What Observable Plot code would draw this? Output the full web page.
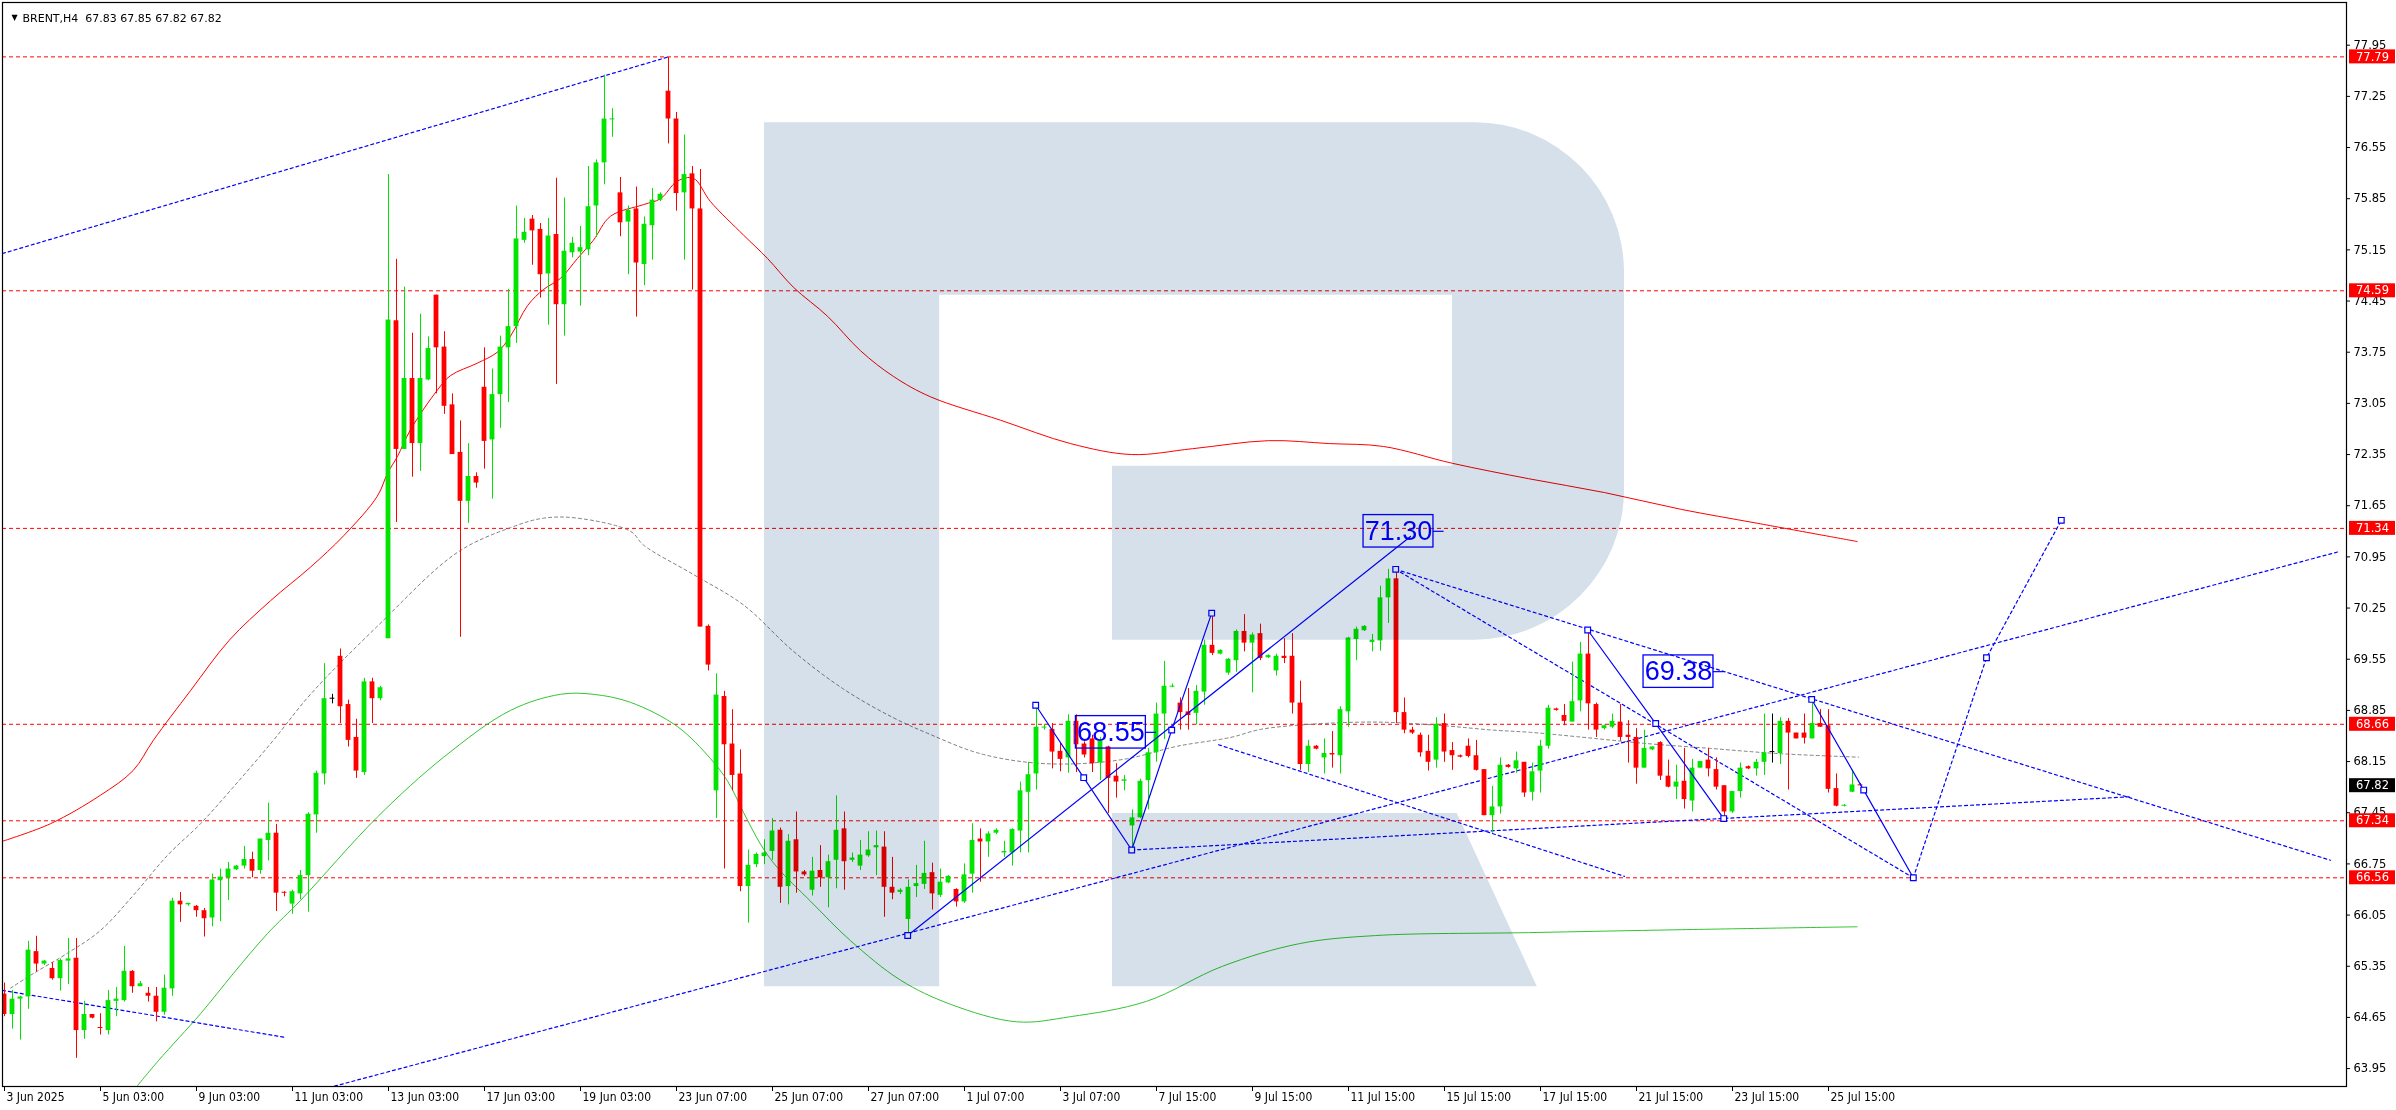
<!DOCTYPE html>
<html><head><meta charset="utf-8">
<script src="https://cdn.jsdelivr.net/npm/d3@7"></script>
<script src="https://cdn.jsdelivr.net/npm/@observablehq/plot@0.6"></script>
<style>
html,body{margin:0;padding:0;background:#fff;}
#chart{width:2396px;height:1110px;}
</style></head><body><div id="chart"></div>
<script>
// ---------- DATA (BRENT, H4) ----------
const opens = [
64.97,64.69,64.90,64.93,65.55,65.38,65.32,65.18,65.42,65.46,
64.47,64.69,64.51,64.47,64.87,64.88,65.28,65.07,64.98,64.94,
64.72,65.04,66.24,66.19,66.17,66.11,66.01,66.52,66.56,66.67,
66.72,66.81,66.66,67.07,67.17,66.36,66.20,66.34,66.59,67.42,
67.98,69.01,69.59,68.93,68.48,68.00,69.24,69.01,69.83,74.18,
72.42,73.39,72.50,73.37,74.53,73.82,73.03,72.38,71.71,72.05,
73.27,72.55,73.17,73.81,74.10,75.28,75.57,75.43,74.82,75.36,
74.40,75.11,75.12,75.15,75.75,76.34,76.93,75.93,75.53,75.71,
74.95,75.48,75.83,77.32,76.94,75.93,76.19,75.71,70.00,67.75,
69.04,68.39,67.98,66.44,66.74,66.85,66.92,67.21,66.44,67.08,
66.64,66.39,66.66,66.56,66.80,67.23,66.80,66.72,66.86,66.97,
66.98,66.43,66.36,65.99,66.44,66.47,66.63,66.32,66.49,66.40,
66.23,66.61,67.09,67.05,67.17,66.90,66.90,67.20,67.73,67.98,
68.61,68.59,68.29,68.20,68.70,68.39,68.46,68.13,68.35,67.95,
67.88,67.27,67.38,67.89,68.27,68.80,69.17,68.95,68.83,68.81,
69.10,69.74,69.62,69.36,69.53,69.93,69.77,69.90,69.57,69.39,
69.59,69.59,68.95,68.11,68.36,68.20,68.26,68.23,68.83,69.82,
69.94,69.78,69.80,70.39,70.65,68.82,68.58,68.51,68.29,68.17,
68.67,68.30,68.23,68.36,68.23,68.04,67.41,67.53,68.10,68.05,
68.14,67.73,68.02,68.36,68.87,68.78,68.69,68.98,69.62,68.93,
68.60,68.62,68.69,68.51,68.48,68.06,68.31,68.41,67.95,67.80,
67.88,67.61,68.06,68.17,68.04,67.82,67.46,67.74,68.08,68.05,
68.14,68.28,68.26,68.70,68.54,68.54,68.46,68.67,68.64,67.78,
67.54,67.73,67.83];
const highs = [
65.12,65.02,64.94,65.69,65.76,65.43,65.40,65.45,65.73,65.73,
64.87,64.69,64.70,65.02,65.06,65.62,65.29,65.14,65.06,65.06,
65.23,66.28,66.36,66.21,66.18,66.14,66.61,66.68,66.77,66.73,
66.99,66.91,67.09,67.58,67.29,66.37,66.39,66.66,67.45,68.02,
69.49,69.07,69.69,68.99,68.73,69.29,69.29,69.18,76.18,75.02,
74.64,74.01,74.27,73.96,74.53,74.03,73.18,72.81,72.50,72.10,
73.81,73.52,73.97,74.61,75.75,75.58,75.62,75.51,75.58,76.13,
75.86,75.32,75.47,76.29,76.38,77.54,77.08,76.14,75.75,76.01,
75.60,75.99,75.93,77.78,77.03,76.72,76.29,76.25,70.02,69.35,
69.11,68.86,68.31,66.94,66.90,67.08,67.37,67.24,67.15,67.46,
66.66,66.84,67.00,66.87,67.68,67.46,66.90,67.07,67.19,67.20,
67.19,66.84,66.41,66.53,66.73,67.06,66.76,66.68,66.59,66.41,
66.75,67.30,67.23,67.19,67.23,67.06,67.23,67.87,68.14,68.92,
68.66,68.67,68.40,68.79,68.79,68.42,68.51,68.48,68.36,68.12,
67.96,67.49,67.91,68.33,68.95,69.52,69.21,69.02,69.15,69.19,
69.81,70.18,69.68,69.56,69.95,70.16,69.91,70.03,69.61,69.62,
69.83,69.90,69.25,68.44,68.37,68.46,68.56,68.90,69.85,69.99,
70.01,69.89,70.55,70.78,70.74,69.02,68.62,68.54,68.51,68.75,
68.80,68.41,68.24,68.46,68.44,68.04,67.81,68.20,68.11,68.28,
68.14,68.13,68.44,68.92,68.88,68.93,69.51,69.78,69.95,68.95,
68.65,68.80,68.93,68.71,68.60,68.58,68.35,68.42,68.17,68.10,
68.33,68.18,68.15,68.33,68.20,67.82,67.74,68.13,68.09,68.18,
68.80,68.80,68.75,68.74,68.54,68.80,68.99,68.86,68.86,67.98,
67.56,68.03,67.85];
const lows = [
64.66,64.49,64.34,64.76,65.27,65.36,65.16,65.01,65.10,64.09,
64.35,64.63,64.41,64.41,64.66,64.86,64.98,65.07,64.86,64.59,
64.68,64.94,65.95,66.17,66.02,65.75,65.89,65.96,66.25,66.66,
66.68,66.56,66.61,66.79,66.10,66.30,66.06,66.26,66.09,67.17,
67.83,68.94,68.67,68.35,67.92,67.96,68.67,68.98,69.83,71.42,
72.42,72.04,72.12,73.36,73.18,72.90,72.35,69.85,71.41,71.89,
72.15,71.74,72.71,73.06,73.87,75.24,74.94,74.49,74.12,73.31,
73.97,75.04,74.38,75.07,75.32,76.04,76.69,75.33,74.81,74.23,
74.66,75.01,75.81,76.60,75.68,75.01,74.60,69.99,69.39,67.37,
66.68,67.75,66.37,65.94,66.70,66.74,66.80,66.21,66.19,66.35,
66.58,66.31,66.43,66.15,66.41,66.39,66.77,66.66,66.84,66.59,
66.02,66.26,66.33,65.76,66.29,66.40,66.12,66.29,66.48,66.16,
66.21,66.35,66.50,66.84,67.15,66.84,66.72,66.90,66.90,67.76,
68.58,68.05,68.01,67.99,68.00,68.20,68.00,67.89,67.44,67.65,
67.75,66.94,67.37,67.49,68.14,68.45,69.16,68.58,68.58,68.65,
68.92,69.60,69.61,69.33,69.37,69.65,69.09,69.53,69.56,69.32,
69.49,68.80,68.03,68.00,68.31,67.98,68.06,67.98,68.62,69.53,
69.93,69.65,69.66,70.04,68.67,68.53,68.52,68.21,68.02,68.06,
68.14,68.03,68.20,68.20,68.02,67.41,67.17,67.43,68.06,67.99,
67.66,67.61,67.72,68.32,68.84,68.64,68.69,68.83,68.58,68.48,
68.58,68.60,68.43,68.13,67.84,68.06,68.30,67.89,67.79,67.63,
67.50,67.46,68.06,67.94,67.76,67.38,67.44,67.65,68.04,67.95,
67.96,68.13,68.11,67.76,68.46,68.39,68.46,68.62,67.72,67.53,
67.53,67.73,67.82];
const closes = [
64.69,64.90,64.93,65.57,65.38,65.42,65.18,65.43,65.45,64.47,
64.69,64.64,64.50,64.88,64.90,65.28,65.07,65.11,64.94,64.72,
65.05,66.24,66.19,66.21,66.11,66.00,66.53,66.57,66.68,66.72,
66.81,66.65,67.09,67.17,66.35,66.35,66.37,66.59,67.43,67.99,
69.01,69.01,68.90,68.44,68.02,69.24,69.01,69.16,74.19,72.42,
73.39,72.50,73.39,73.80,73.81,73.01,72.35,71.71,72.05,71.96,
72.53,73.17,73.82,74.10,75.30,75.39,75.41,74.81,75.34,74.40,
75.13,75.24,75.18,75.74,76.34,76.94,76.94,75.52,75.69,74.97,
75.50,75.83,75.91,76.94,75.92,76.18,75.71,69.99,69.47,69.06,
68.38,67.96,66.44,66.73,66.88,66.90,67.20,66.43,67.06,66.64,
66.60,66.65,66.56,66.78,67.21,66.78,66.83,66.87,66.94,67.00,
66.43,66.35,66.39,66.43,66.48,66.62,66.34,66.50,66.58,66.23,
66.60,67.07,67.05,67.16,67.21,66.92,67.22,67.75,67.97,68.62,
68.62,68.28,68.18,68.70,68.38,68.24,68.12,68.43,67.92,67.87,
67.90,67.38,67.88,68.27,68.80,69.18,69.18,68.82,68.78,69.11,
69.74,69.63,69.67,69.55,69.93,69.77,69.88,69.56,69.60,69.59,
69.56,68.95,68.11,68.36,68.32,68.26,68.24,68.86,69.84,69.96,
70.00,69.81,70.39,70.65,68.82,68.58,68.54,68.27,68.14,68.66,
68.28,68.23,68.21,68.22,68.03,67.41,67.53,68.10,68.07,68.16,
67.72,68.01,68.36,68.88,68.85,68.70,68.97,69.62,68.94,68.58,
68.64,68.70,68.48,68.48,68.06,68.33,68.35,67.95,67.80,67.87,
67.63,68.06,68.15,68.05,67.80,67.46,67.74,68.06,68.05,68.14,
68.27,68.28,68.70,68.54,68.46,68.47,68.67,68.62,67.77,67.54,
67.55,67.83,67.82];

const header = "BRENT,H4  67.83 67.85 67.82 67.82";
const levelPrices = [77.79, 74.59, 71.34, 68.66, 67.34, 66.56];
const lastPrice = 67.82;
const yTicks = [77.95,77.25,76.55,75.85,75.15,74.45,73.75,73.05,72.35,71.65,70.95,70.25,69.55,68.85,68.15,67.45,66.75,66.05,65.35,64.65,63.95];
const xTickBars = [0,12,24,36,48,60,72,84,96,108,120,132,144,156,168,180,192,204,216,228];
const xTickLabels = ["3 Jun 2025","5 Jun 03:00","9 Jun 03:00","11 Jun 03:00","13 Jun 03:00","17 Jun 03:00","19 Jun 03:00","23 Jun 07:00","25 Jun 07:00","27 Jun 07:00","1 Jul 07:00","3 Jul 07:00","7 Jul 15:00","9 Jul 15:00","11 Jul 15:00","15 Jul 15:00","17 Jul 15:00","21 Jul 15:00","23 Jul 15:00","25 Jul 15:00"];

// moving averages: [bar, price]
const redMA = [[-0.25,67.06],[5.75,67.30],[12,67.69],[16.1,68.03],[18.6,68.44],[23.25,69.12],[28.1,69.81],[33.25,70.35],[38.25,70.81],[42.4,71.24],[46.6,71.78],[47.9,72.10],[49.1,72.32],[50.75,72.69],[54.1,73.23],[55.75,73.43],[59.1,73.60],[61.6,73.75],[63.25,73.97],[65.4,74.39],[67.4,74.61],[69.5,74.76],[71.6,75.03],[73.6,75.28],[75.75,75.61],[79.9,75.77],[82,75.85],[84.1,76.09],[86.1,76.13],[88.25,75.81],[92.4,75.35],[95.4,75.03],[98.6,74.64],[102.9,74.24],[107,73.77],[111.1,73.42],[115.75,73.14],[124.5,72.82],[133.25,72.50],[140.9,72.35],[148.5,72.43],[158,72.54],[165.6,72.50],[172.4,72.46],[181,72.23],[190.5,72.02],[200,71.83],[209.6,71.60],[219.1,71.41],[231.6,71.16]];
const grayMA = [[0.75,65.05],[3.6,65.25],[7.9,65.53],[12,65.84],[16.1,66.32],[20.4,66.87],[24.5,67.30],[28.6,67.80],[33.6,68.44],[38.25,69.07],[46.6,70.00],[56.6,71.01],[63.25,71.35],[67.4,71.48],[71.6,71.48],[78.25,71.30],[79.9,71.11],[86.1,70.71],[92.4,70.29],[98.6,69.66],[104.9,69.14],[111.1,68.75],[115.75,68.52],[121.6,68.27],[127.9,68.14],[134.1,68.12],[140.4,68.19],[146.6,68.36],[153.25,68.48],[157,68.59],[163.25,68.66],[171.6,68.69],[179.9,68.64],[186.1,68.58],[190.75,68.55],[196.6,68.49],[204.9,68.40],[213.25,68.33],[221.6,68.26],[231.75,68.21]];
const greenMA = [[16.5,63.70],[19.25,64.06],[24.5,64.70],[28.6,65.25],[32.9,65.80],[37,66.25],[46.6,67.39],[54.9,68.21],[63.25,68.85],[69.5,69.07],[73.6,69.07],[78.25,68.96],[84.1,68.63],[88.25,68.19],[90.4,67.88],[92.4,67.45],[94.5,67.02],[96.6,66.70],[100.75,66.24],[105.75,65.70],[112,65.16],[118.25,64.83],[126.5,64.59],[133.25,64.66],[142.75,64.87],[152.25,65.35],[161.9,65.66],[171.4,65.77],[190.5,65.81],[209.6,65.85],[231.6,65.89]];

// dotted blue trend lines: line id, bar, price
const trendId    = ["L1","L1","L2","L2","L3","L3","L4","L4","L5","L5","L6","L6","L7","L7","L8","L8","L8"];
const trendBar   = [-0.25,83, -0.25,34.9, 41.25,291.75, 140.9,265.9, 173.9,290.75, 174.5,238.6, 151.75,202.5, 238.6,247.75,257.1];
const trendPrice = [75.10,77.79, 65.02,64.38, 63.71,71.02, 66.94,67.67, 70.78,66.80, 70.74,66.56, 68.38,66.58, 66.56,69.57,71.45];

// solid blue wave lines
const waveId    = ["S1","S1","S2","S2","S2","S3","S3","S3","S4","S4","S4","S5","S5","S5"];
const waveBar   = [112.9,175.75, 128.9,134.9,140.9, 140.9,145.9,150.9, 197.9,206.4,214.9, 225.9,232.4,238.6];
const wavePrice = [65.77,71.23, 68.92,67.93,66.94, 66.94,68.58,70.18, 69.95,68.67,67.37, 69.00,67.76,66.56];

// wave anchor squares
const pointBar   = [112.9,128.9,134.9,140.9,145.9,150.9,173.9,197.9,206.4,214.9,225.9,232.4,238.6,247.75,257.1];
const pointPrice = [65.77,68.92,67.93,66.94,68.58,70.18,70.78,69.95,68.67,67.37,69.00,67.76,66.56,69.57,71.45];

// price labels drawn on the chart
const labelText  = ["68.55","69.38","71.30"];
const labelBar   = [138.3, 209.25, 174.25];
const labelPrice = [68.55, 69.38, 71.30];

// watermark "R" geometry (bar / price units)
const logoCols = [95, 116.9, 138.5, 181, 181.6, 191.6, 202.5];
const logoRows = [76.89, 74.53, 72.19, 69.81, 67.44, 65.07];

// ---------- CHART ----------
const W = 2396, H = 1110;
const M = {left: 2, right: 50, top: 2, bottom: 24};
const xDom = [-0.25, 292.75];
const yDom = [63.705, 78.534];
const xMax = xDom[1], yMin = yDom[0];

const candles = opens.map((o, i) => ({i, o, h: highs[i], l: lows[i], c: closes[i]}));
const GREEN = "#00e400", RED = "#ff0000";
const col = d => d.c > d.o ? GREEN : d.c < d.o ? RED : "#000000";
const minBody = 0.014;
const bLo = d => { const lo = Math.min(d.o, d.c), hi = Math.max(d.o, d.c); return hi - lo < minBody ? (lo + hi) / 2 - minBody / 2 : lo; };
const bHi = d => { const lo = Math.min(d.o, d.c), hi = Math.max(d.o, d.c); return hi - lo < minBody ? (lo + hi) / 2 + minBody / 2 : hi; };

const trend = trendId.map((id, k) => ({id, x: trendBar[k], y: trendPrice[k]}));
const wave = waveId.map((id, k) => ({id, x: waveBar[k], y: wavePrice[k]}));
const points = pointBar.map((x, k) => ({x, y: pointPrice[k]}));
const labels = labelText.map((t, k) => ({t, x: labelBar[k], y: labelPrice[k]}));
const xTicks = xTickBars.map((b, k) => ({b, t: xTickLabels[k]}));
const tags = levelPrices.map(p => ({p, bg: "#ff0000"})).concat([{p: lastPrice, bg: "#000000"}]);

const BLUE = "#0000ff";
const plot = Plot.plot({
  width: W, height: H,
  marginLeft: M.left, marginRight: M.right, marginTop: M.top, marginBottom: M.bottom,
  x: {domain: xDom, axis: null},
  y: {domain: yDom, axis: null},
  style: {background: "#ffffff", fontFamily: "DejaVu Sans", fontSize: "11px", overflow: "visible"},
  marks: [
    Plot.ruleY(levelPrices, {stroke: RED, strokeWidth: 1, strokeDasharray: "4,3"}),
    Plot.line(grayMA, {x: d => d[0], y: d => d[1], stroke: "#808080", strokeWidth: 1, strokeDasharray: "3,3", curve: "catmull-rom", clip: true}),
    Plot.line(greenMA, {x: d => d[0], y: d => d[1], stroke: "#33c433", strokeWidth: 1, curve: "catmull-rom", clip: true}),
    Plot.line(redMA, {x: d => d[0], y: d => d[1], stroke: "#ff0000", strokeWidth: 1, curve: "catmull-rom", clip: true}),
    Plot.line(trend, {x: "x", y: "y", z: "id", stroke: BLUE, strokeWidth: 1.2, strokeDasharray: "3,3", clip: true}),
    Plot.ruleX(candles, {x: "i", y1: "l", y2: "h", stroke: col, strokeWidth: 1, clip: true}),
    Plot.rect(candles, {x1: d => d.i - 0.3, x2: d => d.i + 0.3, y1: bLo, y2: bHi, fill: col, clip: true}),
    Plot.line(wave, {x: "x", y: "y", z: "id", stroke: BLUE, strokeWidth: 1.2}),
    Plot.dot(points, {x: "x", y: "y", symbol: "square", r: 3.2, stroke: BLUE, fill: "#ffffff", strokeWidth: 1.2}),
    Plot.rect(labels, {x1: d => d.x - 4.37, x2: d => d.x + 4.37, y1: d => d.y - 0.222, y2: d => d.y + 0.222, stroke: BLUE, fill: "none", strokeWidth: 1.3}),
    Plot.ruleY(labels, {y: "y", x1: d => d.x + 4.37, x2: d => d.x + 5.7, stroke: BLUE, strokeWidth: 1.2}),
    Plot.text(labels, {x: "x", y: "y", text: "t", fill: BLUE, fontSize: 27, fontFamily: "Liberation Sans", textAnchor: "middle"}),
    Plot.frame({stroke: "#000000", strokeWidth: 1.2}),
    Plot.ruleX(xTicks, {x: "b", y1: yMin, y2: yMin, insetBottom: -5, stroke: "#000"}),
    Plot.text(xTicks, {x: "b", frameAnchor: "bottom", dy: 14, dx: 2, textAnchor: "start", text: "t", fontSize: 12, fontFamily: "DejaVu Sans Condensed", fill: "#000"}),
    Plot.ruleY(yTicks, {y: d => d, x1: xMax, x2: xMax, insetRight: -4, stroke: "#000"}),
    Plot.text(yTicks, {x: xMax, y: d => d, dx: 7, textAnchor: "start", text: d => d.toFixed(2), fontSize: 11.5, fill: "#000"}),
    Plot.rect(tags, {x1: xMax, x2: xMax, insetLeft: 3, insetRight: -49, y1: "p", y2: "p", insetTop: -7, insetBottom: -7, fill: "bg"}),
    Plot.text(tags, {x: xMax, y: "p", dx: 26, textAnchor: "middle", text: d => d.p.toFixed(2), fill: "#ffffff", fontSize: 11.5}),
    Plot.text([header], {frameAnchor: "top-left", dx: 20, dy: 12, textAnchor: "start", fontSize: 11, fill: "#000"}),
    Plot.text(["\u25BC"], {frameAnchor: "top-left", dx: 9, dy: 12, fontSize: 8, fill: "#000"})
  ]
});
document.getElementById("chart").appendChild(plot);

// watermark R drawn through the same linear mapping as the plot scales
const sx = plot.scale("x"), sy = plot.scale("y");
const px = v => sx.range[0] + (v - sx.domain[0]) / (sx.domain[1] - sx.domain[0]) * (sx.range[1] - sx.range[0]);
const py = v => sy.range[0] + (v - sy.domain[0]) / (sy.domain[1] - sy.domain[0]) * (sy.range[1] - sy.range[0]);
const [cSL, cSR, cLeg, cHR, cFTR, cFBR, cBR] = logoCols.map(px);
const [rT, rHT, rHB, rBB, rFT, rB] = logoRows.map(py);
const R = 150;
const body = `M${cSL},${rT} H${cBR - R} A${R},${R} 0 0 1 ${cBR},${rT + R} V${rBB - R} A${R},${R} 0 0 1 ${cBR - R},${rBB} H${cLeg} V${rHB} H${cHR} V${rHT} H${cSR} V${rB} H${cSL} Z`;
const foot = `M${cLeg},${rFT} H${cFTR} L${cFBR},${rB} H${cLeg} Z`;
const svg = d3.select(plot.tagName.toLowerCase() === "svg" ? plot : plot.querySelector("svg"));
const logo = svg.insert("g", "g[aria-label='frame']").style("mix-blend-mode", "multiply");
logo.append("path").attr("d", body + " " + foot).attr("fill", "#d5e0eb");
</script>
</body></html>
